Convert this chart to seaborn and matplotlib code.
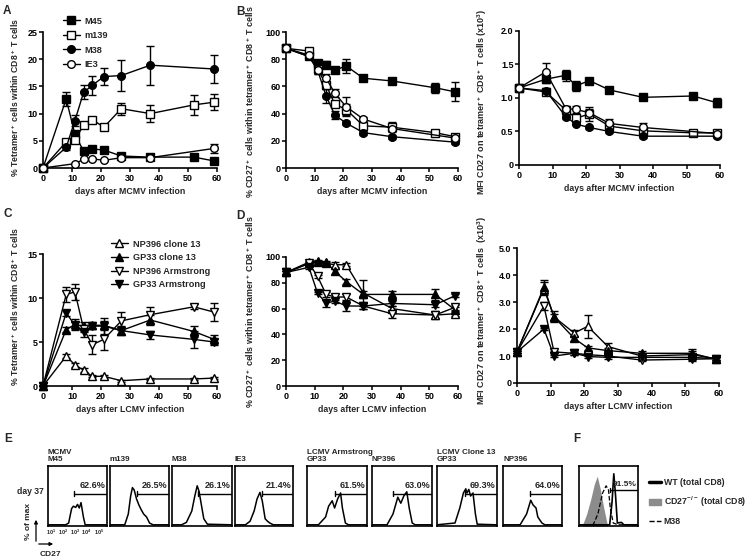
import numpy as np
import pandas as pd
import seaborn as sns
import matplotlib.pyplot as plt
from matplotlib.lines import Line2D
from matplotlib.patches import Patch

W, H = 754, 556
nan = np.nan

# ---------------- data: MCMV ----------------
days_mcmv = [0, 8, 11, 14, 17, 21, 27, 37, 52, 59]
m45_tet = [0, 12.7, 6.2, 3.1, 3.5, 3.3, 2.2, 2.0, 2.0, 1.3]
m45_tet_err = [0, 1.3, 0.5, 0.3, 0.3, 0.3, 0.3, 0.2, 0.2, 0.2]
m139_tet = [0, 4.8, 5.1, 7.9, 8.9, 7.5, 10.9, 10.0, 11.6, 12.1]
m139_tet_err = [0, 0.4, 0.5, 0.6, 0.5, 0.4, 1.1, 1.5, 1.8, 1.5]
m38_tet = [0, 3.8, 8.7, 13.9, 15.2, 16.8, 17.0, 18.9, nan, 18.2]
m38_tet_err = [0, 0.4, 1.0, 1.3, 1.8, 1.5, 2.8, 3.6, nan, 2.5]
ie3_tet = [0, nan, 0.8, 1.6, 1.7, 1.4, 1.9, 1.9, nan, 3.6]
ie3_tet_err = [0, nan, 0.1, 0.2, 0.2, 0.1, 0.2, 0.2, nan, 0.8]

m45_cd27 = [88, 82, 77, 76, 72, 75, 66, 64, 59, 56]
m45_cd27_err = [1, 1, 2, 2.5, 2, 5, 2, 2, 3.5, 7]
m139_cd27 = [88, 86, 73, 61, 47, 43, 31, 30, 26, 23]
m139_cd27_err = [1, 1, 2, 3, 2, 4, 1.5, 3.5, 1, 1.5]
m38_cd27 = [88, 82, 72, 53, 39, 33, 26, 23, nan, 19]
m38_cd27_err = [1, 1, 3, 5, 3, 1.5, 1.5, 1.5, nan, 1]
ie3_cd27 = [88, 83, 72, 66, 55, 45, 36, 29, nan, 22]
ie3_cd27_err = [1, 1, 3, 3, 3, 7, 1.5, 1.5, nan, 1]

days_mcmv_mfi = [0, 8, 14, 17, 21, 27, 37, 52, 59]
m45_mfi = [1.15, 1.28, 1.34, 1.18, 1.26, 1.12, 1.01, 1.03, 0.93]
m45_mfi_err = [0.03, 0.06, 0.08, 0.07, 0.03, 0.05, 0.03, 0.05, 0.07]
m139_mfi = [1.15, 1.09, 0.82, 0.70, 0.76, 0.58, 0.51, 0.48, 0.48]
m139_mfi_err = [0.03, 0.05, 0.03, 0.05, 0.10, 0.05, 0.03, 0.02, 0.02]
m38_mfi = [1.15, 1.11, 0.72, 0.61, 0.56, 0.50, 0.43, nan, 0.43]
m38_mfi_err = [0.03, 0.04, 0.03, 0.02, 0.02, 0.02, 0.02, nan, 0.02]
ie3_mfi = [1.15, 1.39, 0.84, 0.83, 0.78, 0.62, 0.56, nan, 0.47]
ie3_mfi_err = [0.03, 0.13, 0.04, 0.05, 0.06, 0.06, 0.07, nan, 0.02]

# ---------------- data: LCMV ----------------
days_lcmv = [0, 8, 11, 14, 17, 21, 27, 37, 52, 59]
np396c13_tet = [0, 3.4, 2.4, 1.8, 1.1, 1.1, 0.6, 0.8, 0.8, 0.9]
np396c13_tet_err = [0, 0.2, 0.2, 0.2, 0.1, 0.2, 0.1, 0.1, 0.1, 0.1]
gp33c13_tet = [0, 6.4, 7.0, 6.8, 6.9, 6.9, 6.3, 7.5, 6.2, 5.3]
gp33c13_tet_err = [0, 0.3, 0.6, 0.5, 0.4, 0.5, 0.4, 0.6, 0.6, 0.5]
np396arm_tet = [0, 10.4, 10.7, 6.5, 4.7, 5.3, 7.4, 8.1, 9.0, 8.4]
np396arm_tet_err = [0, 0.9, 0.9, 0.4, 1.1, 1.2, 1.0, 0.9, 0.3, 1.0]
gp33arm_tet = [0, 8.3, 6.9, 6.1, 6.8, 6.8, 6.3, 5.8, 5.3, 5.0]
gp33arm_tet_err = [0, 0.3, 0.4, 0.5, 0.3, 0.9, 0.5, 0.5, 1.0, 0.3]

np396c13_cd27 = [88, 95, 96, 95, 94, 94, 72, 60, 55, 56]
np396c13_cd27_err = [1, 1, 1, 1, 2, 1, 10, 2, 2, 2]
gp33c13_cd27 = [88, 96, 97, 96, 89, 81, 71, 71, 71, 59]
gp33c13_cd27_err = [1, 1, 1, 1, 2, 2, 3, 3, 4, 2]
np396arm_cd27 = [88, 95, 85, 71, 69, 69, 62, 56, 55, 61]
np396arm_cd27_err = [1, 1, 1, 2, 2, 2, 2, 3, 3, 2]
gp33arm_cd27 = [88, 92, 72, 64, 66, 62, 62, 64, 63, 70]
gp33arm_cd27_err = [1, 1, 1, 3, 2, 4, 2, 2, 2, 1]

days_lcmv_mfi = [0, 8, 11, 17, 21, 27, 37, 52, 59]
np396c13_mfi = [1.15, 3.50, 2.45, 1.85, 2.10, 1.35, 1.00, 1.05, 0.90]
np396c13_mfi_err = [0.05, 0.25, 0.10, 0.12, 0.42, 0.12, 0.08, 0.20, 0.05]
gp33c13_mfi = [1.15, 3.55, 2.45, 1.65, 1.30, 1.20, 1.10, 1.10, 0.88]
gp33c13_mfi_err = [0.05, 0.25, 0.20, 0.08, 0.08, 0.08, 0.10, 0.10, 0.05]
np396arm_mfi = [1.15, 2.85, 1.15, 1.10, 1.05, 1.00, 0.85, 0.88, 0.90]
np396arm_mfi_err = [0.05, 0.15, 0.05, 0.05, 0.05, 0.05, 0.05, 0.05, 0.05]
gp33arm_mfi = [1.15, 2.00, 1.00, 1.10, 0.98, 0.95, 0.95, 0.95, 0.90]
gp33arm_mfi_err = [0.05, 0.05, 0.05, 0.05, 0.05, 0.05, 0.05, 0.05, 0.05]

# ---------------- data: histograms (box fraction coords) ----------------
hist_titles = ["MCMV\nM45", "m139", "M38", "IE3", "LCMV Armstrong\nGP33", "NP396", "LCMV Clone 13\nGP33", "NP396"]
hist_pcts = ["62.6%", "26.5%", "26.1%", "21.4%", "61.5%", "63.0%", "69.3%", "64.0%"]
hist_gate_start = [0.44, 0.45, 0.44, 0.46, 0.46, 0.35, 0.47, 0.45]
hist_x = [
    [0, 0.30, 0.35, 0.40, 0.43, 0.47, 0.50, 0.53, 0.56, 0.60, 0.63, 1.0],
    [0, 0.25, 0.31, 0.35, 0.38, 0.41, 0.45, 0.49, 0.53, 0.57, 0.62, 0.67, 0.73, 1.0],
    [0, 0.16, 0.24, 0.33, 0.38, 0.42, 0.45, 0.49, 0.53, 0.59, 1.0],
    [0, 0.18, 0.26, 0.33, 0.38, 0.43, 0.47, 0.52, 0.56, 0.60, 0.66, 1.0],
    [0, 0.19, 0.31, 0.36, 0.42, 0.46, 0.51, 0.56, 0.59, 0.64, 0.69, 1.0],
    [0, 0.25, 0.35, 0.43, 0.48, 0.53, 0.58, 0.62, 0.67, 0.72, 1.0],
    [0, 0.30, 0.38, 0.44, 0.48, 0.50, 0.53, 0.56, 0.60, 0.64, 0.67, 1.0],
    [0, 0.29, 0.40, 0.47, 0.51, 0.56, 0.59, 0.66, 0.71, 1.0],
]
hist_y = [
    [0.02, 0.02, 0.05, 0.29, 0.33, 0.31, 0.36, 0.30, 0.39, 0.15, 0.02, 0.02],
    [0.02, 0.02, 0.20, 0.50, 0.64, 0.60, 0.45, 0.35, 0.27, 0.20, 0.15, 0.05, 0.02, 0.02],
    [0.02, 0.02, 0.06, 0.25, 0.50, 0.67, 0.58, 0.35, 0.12, 0.03, 0.02],
    [0.02, 0.02, 0.08, 0.25, 0.45, 0.56, 0.42, 0.12, 0.08, 0.05, 0.02, 0.02],
    [0.02, 0.02, 0.15, 0.33, 0.42, 0.30, 0.45, 0.55, 0.30, 0.05, 0.02, 0.02],
    [0.02, 0.02, 0.20, 0.48, 0.38, 0.50, 0.57, 0.30, 0.05, 0.02, 0.02],
    [0.02, 0.05, 0.30, 0.55, 0.62, 0.55, 0.61, 0.50, 0.55, 0.20, 0.03, 0.02],
    [0.02, 0.02, 0.20, 0.43, 0.35, 0.30, 0.15, 0.05, 0.02, 0.02],
]
f_x_ko = [0.06, 0.13, 0.20, 0.26, 0.31, 0.36, 0.42, 0.48]
f_y_ko = [0.02, 0.20, 0.45, 0.70, 0.83, 0.62, 0.30, 0.02]
f_x_m38 = [0, 0.24, 0.32, 0.40, 0.46, 0.50, 0.53, 0.58, 0.66, 1.0]
f_y_m38 = [0.02, 0.02, 0.20, 0.55, 0.67, 0.60, 0.30, 0.05, 0.02, 0.02]
f_x_wt = [0, 0.52, 0.56, 0.59, 0.62, 0.65, 0.72, 0.76, 1.0]
f_y_wt = [0.02, 0.02, 0.40, 0.87, 0.50, 0.05, 0.06, 0.02, 0.02]

# ---------------- style ----------------
sns.set_theme(style="ticks")
plt.rcParams['font.family'] = ['Liberation Sans', 'DejaVu Sans']
plt.rcParams['font.weight'] = 'bold'
plt.rcParams['axes.labelweight'] = 'bold'
plt.rcParams['mathtext.fontset'] = 'custom'
plt.rcParams['mathtext.rm'] = 'Liberation Sans:bold'
plt.rcParams['mathtext.bf'] = 'Liberation Sans:bold'
plt.rcParams['mathtext.default'] = 'bf'

fig = plt.figure(figsize=(W / 100, H / 100), dpi=100)


def px_axes(x0, y0, x1, y1):
    return fig.add_axes([x0 / W, 1 - y1 / H, (x1 - x0) / W, (y1 - y0) / H])


def draw_series(ax, days, vals, errs, marker, filled, ms=5.5):
    df = pd.DataFrame({'day': days, 'val': vals, 'err': errs}).dropna()
    ax.errorbar(df['day'], df['val'], yerr=df['err'], fmt='none', ecolor='black',
                elinewidth=1, capsize=3, capthick=1, clip_on=False, zorder=2)
    sns.lineplot(data=df, x='day', y='val', ax=ax, color='black', linewidth=1,
                 marker=marker, markersize=ms, markerfacecolor='black' if filled else 'white',
                 markeredgecolor='black', markeredgewidth=1, errorbar=None,
                 clip_on=False, zorder=3)


def style_axes(ax, ymax, yticks, yticklabels, xlabel, ylabel, label_xy, ylabel_size):
    ax.set_xlim(0, 60)
    ax.set_ylim(0, ymax)
    ax.set_xticks([0, 10, 20, 30, 40, 50, 60])
    ax.set_yticks(yticks)
    ax.set_yticklabels(yticklabels)
    sns.despine(ax=ax)
    for s in ['left', 'bottom']:
        ax.spines[s].set_linewidth(1.2)
        ax.spines[s].set_color('black')
    ax.tick_params(length=3, width=1.1, pad=1, labelsize=6.5, colors='black')
    ax.set_xlabel(xlabel, fontsize=6.3, labelpad=3)
    ax.set_ylabel(ylabel, fontsize=ylabel_size)
    ax.yaxis.set_label_coords(*label_xy)


mcmv_styles = [('s', True), ('s', False), ('o', True), ('o', False)]
mcmv_names = ['M45', 'm139', 'M38', 'IE3']
lcmv_styles = [('^', False), ('^', True), ('v', False), ('v', True)]
lcmv_names = ['NP396 clone 13', 'GP33 clone 13', 'NP396 Armstrong', 'GP33 Armstrong']

# ---- A ----
axA = px_axes(43, 32, 217, 168)
for (mk, fl), v, e in zip(mcmv_styles, [m45_tet, m139_tet, m38_tet, ie3_tet],
                          [m45_tet_err, m139_tet_err, m38_tet_err, ie3_tet_err]):
    draw_series(axA, days_mcmv, v, e, mk, fl)
style_axes(axA, 25, [0, 5, 10, 15, 20, 25], ['0', '5', '10', '15', '20', '25'],
           'days after MCMV infection', '% Tetramer$^+$ cells within CD8$^+$ T cells', (-0.125, 0.52), 6.2)
handles = [Line2D([], [], color='black', lw=1, marker=mk, ms=5.5, mfc='black' if fl else 'white', mec='black')
           for mk, fl in mcmv_styles]
fig.legend(handles, mcmv_names, loc='upper left', bbox_to_anchor=(58 / W, 1 - 12 / H), frameon=False,
           fontsize=6.6, handlelength=1.9, handletextpad=0.5, labelspacing=0.6, borderpad=0)

# ---- B ----
axB = px_axes(286, 32, 458, 168)
for (mk, fl), v, e in zip(mcmv_styles, [m45_cd27, m139_cd27, m38_cd27, ie3_cd27],
                          [m45_cd27_err, m139_cd27_err, m38_cd27_err, ie3_cd27_err]):
    draw_series(axB, days_mcmv, v, e, mk, fl)
style_axes(axB, 100, [0, 20, 40, 60, 80, 100], ['0', '20', '40', '60', '80', '100'],
           'days after MCMV infection', '% CD27$^+$ cells within tetramer$^+$ CD8$^+$ T cells', (-0.175, 0.49), 6.4)

axB2 = px_axes(519, 31, 720, 165)
for (mk, fl), v, e in zip(mcmv_styles, [m45_mfi, m139_mfi, m38_mfi, ie3_mfi],
                          [m45_mfi_err, m139_mfi_err, m38_mfi_err, ie3_mfi_err]):
    draw_series(axB2, days_mcmv_mfi, v, e, mk, fl)
style_axes(axB2, 2.0, [0, 0.5, 1.0, 1.5, 2.0], ['0', '0.5', '1.0', '1.5', '2.0'],
           'days after MCMV infection', 'MFI CD27 on tetramer$^+$ CD8$^+$ T cells (x10$^3$)', (-0.15, 0.47), 6.5)

# ---- C ----
axC = px_axes(43, 254, 217, 386)
for (mk, fl), v, e in zip(lcmv_styles, [np396c13_tet, gp33c13_tet, np396arm_tet, gp33arm_tet],
                          [np396c13_tet_err, gp33c13_tet_err, np396arm_tet_err, gp33arm_tet_err]):
    draw_series(axC, days_lcmv, v, e, mk, fl)
style_axes(axC, 15, [0, 5, 10, 15], ['0', '5', '10', '15'],
           'days after LCMV infection', '% Tetramer$^+$ cells within CD8$^+$ T cells', (-0.125, 0.6), 6.2)
handles = [Line2D([], [], color='black', lw=1, marker=mk, ms=5.5, mfc='black' if fl else 'white', mec='black')
           for mk, fl in lcmv_styles]
fig.legend(handles, lcmv_names, loc='upper left', bbox_to_anchor=(106 / W, 1 - 235 / H), frameon=False,
           fontsize=6.6, handlelength=1.9, handletextpad=0.5, labelspacing=0.5, borderpad=0)

# ---- D ----
axD = px_axes(286, 257, 458, 386)
for (mk, fl), v, e in zip(lcmv_styles, [np396c13_cd27, gp33c13_cd27, np396arm_cd27, gp33arm_cd27],
                          [np396c13_cd27_err, gp33c13_cd27_err, np396arm_cd27_err, gp33arm_cd27_err]):
    draw_series(axD, days_lcmv, v, e, mk, fl)
style_axes(axD, 100, [0, 20, 40, 60, 80, 100], ['0', '20', '40', '60', '80', '100'],
           'days after LCMV infection', '% CD27$^+$ cells within tetramer$^+$ CD8$^+$ T cells', (-0.175, 0.58), 6.4)

axD2 = px_axes(517, 248, 719, 383)
for (mk, fl), v, e in zip(lcmv_styles, [np396c13_mfi, gp33c13_mfi, np396arm_mfi, gp33arm_mfi],
                          [np396c13_mfi_err, gp33c13_mfi_err, np396arm_mfi_err, gp33arm_mfi_err]):
    draw_series(axD2, days_lcmv_mfi, v, e, mk, fl)
style_axes(axD2, 5.0, [0, 1, 2, 3, 4, 5], ['0', '1.0', '2.0', '3.0', '4.0', '5.0'],
           'days after LCMV infection', 'MFI CD27 on tetramer$^+$ CD8$^+$ T cells  (x10$^3$)', (-0.14, 0.54), 6.5)

# ---- E histograms ----
box_x = [(48, 107), (110, 169), (172, 232), (235, 293), (307, 367), (372, 432), (437, 497), (503, 562)]


def hist_box(x0, x1):
    ax = px_axes(x0, 466, x1, 526)
    ax.set_xlim(0, 1)
    ax.set_ylim(0, 1)
    ax.set_xticks([])
    ax.set_yticks([])
    for s in ax.spines.values():
        s.set_linewidth(1.2)
        s.set_color('black')
        s.set_visible(True)
    return ax


for i, (x0, x1) in enumerate(box_x):
    ax = hist_box(x0, x1)
    sns.lineplot(x=hist_x[i], y=hist_y[i], ax=ax, color='black', linewidth=1.1, errorbar=None, sort=False)
    g = hist_gate_start[i]
    ax.plot([g, 1], [0.54, 0.54], color='black', lw=1)
    ax.plot([g, g], [0.50, 0.58], color='black', lw=1)
    ax.text(0.97, 0.68, hist_pcts[i], ha='right', va='center', fontsize=6.5)
    fig.text(x0 / W, 1 - 463 / H, hist_titles[i], ha='left', va='bottom', fontsize=5.8, linespacing=1.05)

# F box
axF = hist_box(579, 638)
axF.fill_between(f_x_ko, f_y_ko, color='#8c8c8c', lw=0)
sns.lineplot(x=f_x_m38, y=f_y_m38, ax=axF, color='black', linewidth=0.9, linestyle='--', errorbar=None, sort=False)
sns.lineplot(x=f_x_wt, y=f_y_wt, ax=axF, color='black', linewidth=1.2, errorbar=None, sort=False)
axF.plot([0.52, 1], [0.6, 0.6], color='black', lw=1)
axF.plot([0.52, 0.52], [0.56, 0.64], color='black', lw=1)
axF.text(0.97, 0.69, '91.5%', ha='right', va='center', fontsize=6.0)
f_handles = [Line2D([], [], color='black', lw=2.5), Patch(color='#8c8c8c'),
             Line2D([], [], color='black', lw=1, ls='--')]
fig.legend(f_handles, ['WT (total CD8)', 'CD27$^{-/-}$ (total CD8)', 'M38'], loc='upper left',
           bbox_to_anchor=(645 / W, 1 - 474 / H), frameon=False, fontsize=6.3,
           handlelength=1.3, handletextpad=0.35, labelspacing=0.85, borderpad=0)

# E annotations
fig.text(17 / W, 1 - 491 / H, 'day 37', ha='left', va='center', fontsize=6.2)
fig.text(29 / W, 1 - 522 / H, '% of max', ha='center', va='center', rotation=90, fontsize=6.0)
fig.text(50 / W, 1 - 554 / H, 'CD27', ha='center', va='center', fontsize=6.0)
fig.add_artist(plt.Annotation('', xy=(36 / W, 1 - 517 / H), xytext=(36 / W, 1 - 544 / H),
                              xycoords='figure fraction', arrowprops=dict(arrowstyle='-|>', lw=0.9, color='black',
                                                                          mutation_scale=5)))
fig.add_artist(plt.Annotation('', xy=(56 / W, 1 - 544 / H), xytext=(36 / W, 1 - 544 / H),
                              xycoords='figure fraction', arrowprops=dict(arrowstyle='-|>', lw=0.9, color='black',
                                                                          mutation_scale=5)))
for lab, xp in zip(['$10^1$', '$10^2$', '$10^3$', '$10^4$', '$10^5$'], [51, 63, 75, 86, 99]):
    fig.text(xp / W, 1 - 532 / H, lab, ha='center', va='center', fontsize=4)

# panel letters
for lab, xp, yp in [('A', 3, 11), ('B', 236, 12), ('C', 3, 214), ('D', 236, 216), ('E', 4, 439), ('F', 573, 439)]:
    fig.text(xp / W, 1 - yp / H, lab, ha='left', va='center', fontsize=8.5)

fig.savefig('out.png', dpi=100)
